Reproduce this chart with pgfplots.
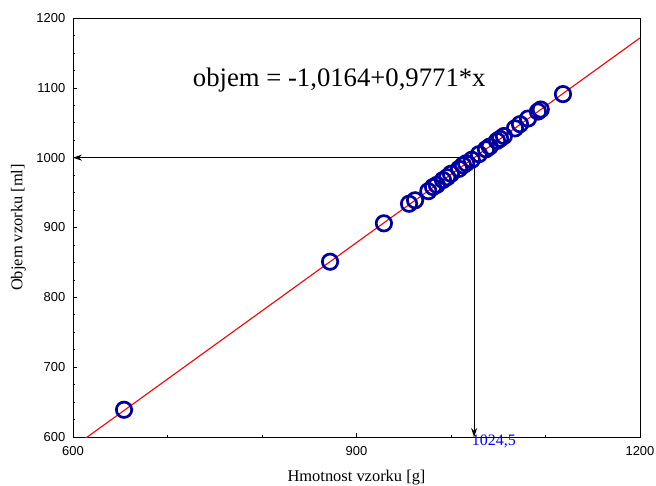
\documentclass[border=0pt]{standalone}
\usepackage{fontspec}
\setmainfont{Liberation Serif}
\newfontfamily\arialf{Liberation Sans}
\usepackage{pgfplots}
\pgfplotsset{compat=1.18}
\usetikzlibrary{arrows.meta}
\definecolor{ptblue}{RGB}{0,0,160}
\begin{document}
\begin{tikzpicture}
\begin{axis}[
  at={(0,0)}, anchor=south west,
  scale only axis, width=567bp, height=419bp,
  xmin=600, xmax=1200, ymin=600, ymax=1200,
  xtick={600,900,1200}, minor xtick={700,800,1000,1100},
  ytick={600,700,...,1200}, minor y tick num=3,
  tick pos=left, tick align=inside,
  major tick length=4bp, minor tick length=2.5bp,
  tick style={black, line width=0.6bp},
  axis line style={black, line width=0.8bp},
  /pgf/number format/assume math mode=true,
  /pgf/number format/1000 sep={},
  ticklabel style={font=\arialf\fontsize{13}{15}\selectfont},
  xticklabel style={anchor=north, inner sep=0pt, yshift=-9bp},
  yticklabel style={anchor=east, inner sep=0pt, xshift=-7.5bp},
  xlabel={Hmotnost vzorku [g]},
  ylabel={Objem vzorku [ml]},
  label style={font=\fontsize{16.5}{19}\selectfont},
  xlabel style={at={(axis description cs:0.5,0)}, anchor=base, yshift=-44bp},
  ylabel style={at={(axis description cs:0,0.5)}, anchor=center, yshift=54.5bp},
  clip mode=individual,
]
\addplot[red, line width=1.1bp] coordinates {(600,585.24) (1200,1171.50)};
\addplot[black, line width=0.8bp, -{Stealth[length=9bp,width=6bp]}] coordinates {(1024.5,1000) (600,1000)};
\addplot[black, line width=0.8bp, -{Stealth[length=9bp,width=6bp]}] coordinates {(1024.5,1000) (1024.5,600)};
\addplot[only marks, mark=o, mark size=7.7bp, mark options={ptblue, line width=2.7bp}] coordinates {
(654,639) (872,851) (929,906) (955.6,934) (962,939) (976,952) (981,958)
(985,961) (991.5,968) (996,972) (1000,977) (1008.5,984) (1012.7,989)
(1016,992) (1022,997) (1029.6,1005) (1037,1012) (1041,1016) (1048.7,1024)
(1052,1027) (1056,1031) (1067.7,1042) (1073,1048) (1081.5,1056)
(1092,1066) (1095,1069) (1118.5,1091)
};
\node[anchor=base west, inner sep=0pt, font=\fontsize{26.8}{30}\selectfont] at (axis cs:726.7,1102.6) {objem = -1,0164+0,9771*x};
\node[anchor=base west, inner sep=0pt, text=blue, font=\fontsize{16}{18}\selectfont] at (axis cs:1021.9,587.5) {1024,5};
\end{axis}
\pgfresetboundingbox
\path[use as bounding box] (-73bp,-49bp) rectangle (583bp,437bp);
\end{tikzpicture}
\end{document}
